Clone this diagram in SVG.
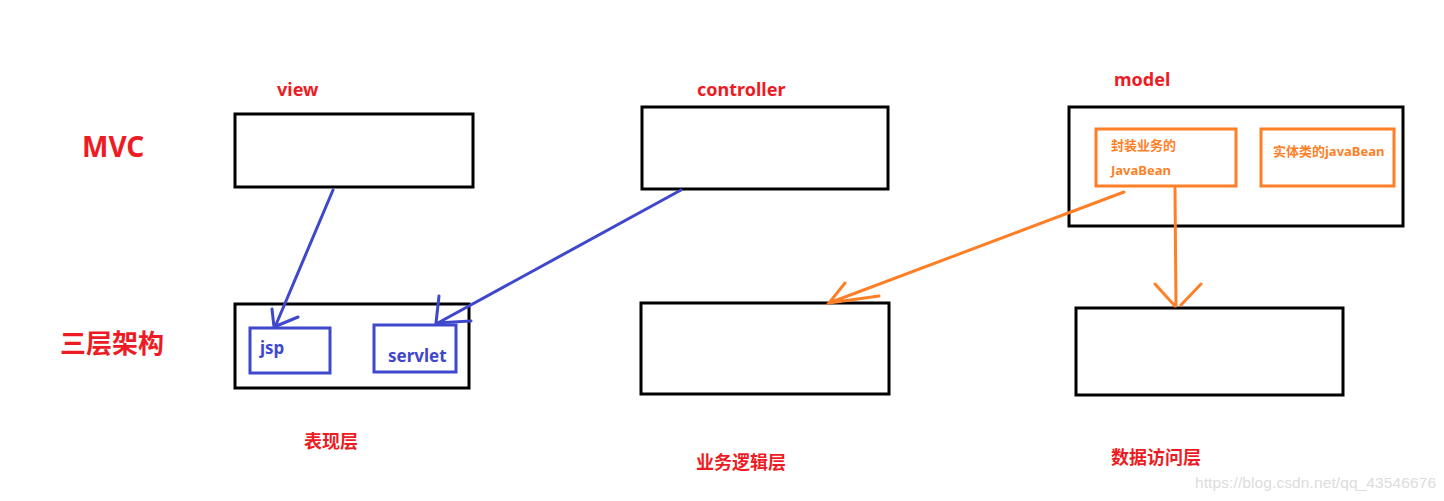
<svg xmlns="http://www.w3.org/2000/svg" width="1444" height="501" viewBox="0 0 1444 501">
<style>
.box{fill:none;stroke:#000;stroke-width:3}
.bbox{fill:none;stroke:#3f48cc;stroke-width:3}
.obox{fill:none;stroke:#ff7f27;stroke-width:3}
.red{fill:#ed1c24;font-family:"Noto Sans","Noto Sans CJK SC",sans-serif;font-weight:bold}
.blue{fill:#3f48cc;font-family:"Noto Sans","Noto Sans CJK SC",sans-serif;font-weight:bold}
.org{fill:#ff7f27;font-family:"Noto Sans","Noto Sans CJK SC",sans-serif;font-weight:bold;font-size:13px}
.bl{stroke:#3f48cc;stroke-width:3;fill:none;stroke-linecap:round}
.ol{stroke:#ff7f27;stroke-width:3;fill:none;stroke-linecap:round}
</style>
<rect width="1444" height="501" fill="#fff"/>
<g id="labels">
<text class="red" x="82" y="157" font-size="28">MVC</text>
<text class="red" x="60" y="353" font-size="26" font-family="Noto Sans CJK SC,sans-serif">三层架构</text>
<text class="red" x="304" y="448" font-size="18">表现层</text>
<text class="red" x="696" y="469" font-size="18">业务逻辑层</text>
<text class="red" x="1111" y="464" font-size="18">数据访问层</text>
</g>
<g id="view">
<text class="red" x="277" y="96" font-size="18">view</text>
<rect class="box" x="235" y="114" width="238" height="73"/>
</g>
<g id="controller">
<text class="red" x="697" y="96" font-size="18">controller</text>
<rect class="box" x="642" y="107" width="246" height="82"/>
</g>
<g id="model">
<text class="red" x="1114" y="86" font-size="18">model</text>
<rect class="box" x="1069" y="107" width="334" height="119"/>
<g id="javabean-business">
<rect class="obox" x="1096" y="129" width="140" height="57"/>
<text class="org" x="1111" y="150">封装业务的</text>
<text class="org" x="1111" y="175">JavaBean</text>
</g>
<g id="javabean-entity">
<rect class="obox" x="1261" y="129" width="133" height="57"/>
<text class="org" x="1273" y="156">实体类的javaBean</text>
</g>
</g>
<g id="presentation">
<rect class="box" x="235" y="304" width="234" height="84"/>
<g id="jsp">
<rect class="bbox" x="250" y="328" width="80" height="45"/>
<text class="blue" x="260" y="354" font-size="17">jsp</text>
</g>
<g id="servlet">
<rect class="bbox" x="374" y="325" width="82" height="47"/>
<text class="blue" x="388" y="362" font-size="17">servlet</text>
</g>
</g>
<g id="business">
<rect class="box" x="641" y="303" width="248" height="91"/>
</g>
<g id="data">
<rect class="box" x="1076" y="308" width="267" height="87"/>
</g>
<g id="connectors">
<path class="bl" d="M333 190 L275 327 M272 309 L274 327 L298 317"/>
<path class="bl" d="M681 190 L436 324 M439 296 L436 323 L471 321"/>
<path class="ol" d="M1124 192 L829 303 M845 283 L829 303 L879 296"/>
<path class="ol" d="M1175 188 L1176 306 M1155 284 L1175 306 M1201 284 L1181 305"/>
</g>
<text x="1195" y="488" font-family="Liberation Sans,Arial,sans-serif" font-size="15.5" textLength="241" fill="#dcdcdc">https://blog.csdn.net/qq_43546676</text>
</svg>
